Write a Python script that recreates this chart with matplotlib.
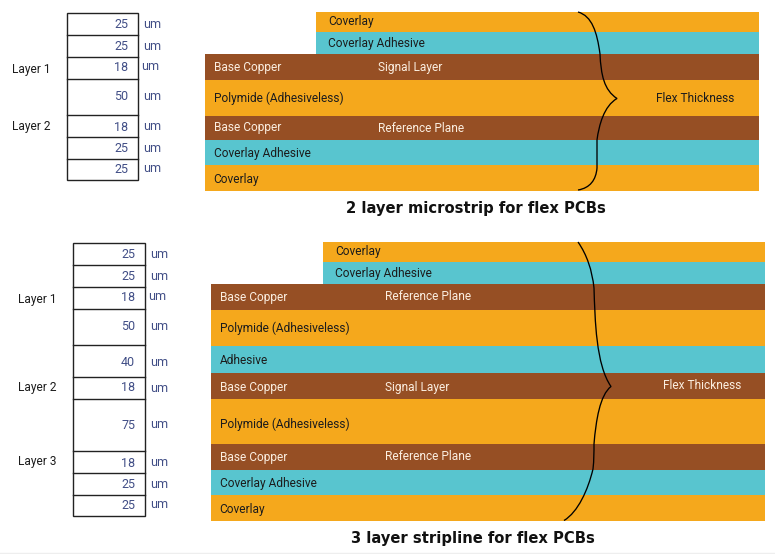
import matplotlib
matplotlib.use("Agg")
import matplotlib.pyplot as plt
from matplotlib.patches import Rectangle, PathPatch
from matplotlib.path import Path

ORANGE = '#f5a81c'
TEAL = '#58c5cf'
BROWN = '#964f24'
NUM = '#414e86'
CREAM = '#fbeee0'
DARK = '#1c1c1c'

# ---------- data ----------
micro_values = [25, 25, 18, 50, 18, 25, 25]
micro_layers = ['Layer 1', 'Layer 2']
micro_bands = ['Coverlay', 'Coverlay Adhesive', 'Base Copper', 'Polymide (Adhesiveless)',
               'Base Copper', 'Coverlay Adhesive', 'Coverlay']
micro_notes = ['', '', 'Signal Layer', '', 'Reference Plane', '', '']
micro_title = '2 layer microstrip for flex PCBs'

strip_values = [25, 25, 18, 50, 40, 18, 75, 18, 25, 25]
strip_layers = ['Layer 1', 'Layer 2', 'Layer 3']
strip_bands = ['Coverlay', 'Coverlay Adhesive', 'Base Copper', 'Polymide (Adhesiveless)', 'Adhesive',
               'Base Copper', 'Polymide (Adhesiveless)', 'Base Copper', 'Coverlay Adhesive', 'Coverlay']
strip_notes = ['', '', 'Reference Plane', '', '', 'Signal Layer', '', 'Reference Plane', '', '']
strip_title = '3 layer stripline for flex PCBs'

# ---------- layout (pixels) ----------
micro_edges = [12, 32, 54, 79.5, 115.5, 140, 165, 190.5]
micro_cells = [13.3, 35.3, 57, 79, 115.3, 137, 159, 180.3]
micro_num_y = [25, 46.5, 67.5, 96.5, 127.5, 148, 169.5]
micro_um = [(143.5, 25), (143.5, 47), (141.5, 67), (143.5, 96), (143.5, 127), (143.5, 148), (143.5, 169)]
micro_layer_y = [69.5, 126.5]
micro_text_y = [22, 43, 67, 98, 128, 153.5, 179.5]

strip_edges = [242, 262, 284, 309.5, 345.5, 373, 398.5, 444, 469.5, 495, 520.5]
strip_cells = [243.3, 265.3, 287, 309, 345.3, 377.3, 399, 451.3, 473, 495, 516.3]
strip_num_y = [255, 276.5, 297.5, 326.5, 362.5, 387.5, 425.5, 463.5, 484, 505.5]
strip_um = [(150, 255), (150, 277), (148, 297), (150, 326), (150, 362), (150, 388),
            (150, 424), (150, 463), (150, 484), (150, 505)]
strip_layer_y = [299.5, 387.5, 461.5]
strip_text_y = [252, 273, 297, 328, 361, 387, 424, 457, 483, 509]


def band_color(name):
    if name == 'Base Copper':
        return BROWN
    if 'Adhesive' in name and 'Adhesiveless' not in name:
        return TEAL
    return ORANGE


# draws one table of thicknesses with its um labels
def draw_table(ax, x0, x1, cells, values, num_y, um, layers, layer_y, layer_x):
    ax.add_patch(Rectangle((x0, cells[0]), x1 - x0, cells[-1] - cells[0], fc='white', ec='#222222', lw=1))
    for y in cells[1:-1]:
        ax.plot([x0, x1], [y, y], color='#222222', lw=1)
    for v, y in zip(values, num_y):
        ax.text(x1 - 9.5, y, str(v), ha='right', va='center', color=NUM, fontsize=9)
    for (x, y) in um:
        ax.text(x, y, 'um', ha='left', va='center', color=NUM, fontsize=9)
    for name, y in zip(layers, layer_y):
        ax.text(layer_x, y, name, ha='left', va='center', color=DARK, fontsize=8.6)


# draws the coloured stack
def draw_stack(ax, x0, x1, top_x, edges, bands, notes, text_y, note_x):
    for i, name in enumerate(bands):
        left = top_x if i < 2 else x0
        ax.add_patch(Rectangle((left, edges[i]), x1 - left, edges[i + 1] - edges[i],
                               fc=band_color(name), ec='none'))
        color = CREAM if name == 'Base Copper' else DARK
        tx = top_x + 12 if i < 2 else x0 + 8.5
        ax.text(tx, text_y[i], name, ha='left', va='center', color=color, fontsize=8.6)
        if notes[i]:
            ax.text(note_x, text_y[i], notes[i], ha='left', va='center', color=CREAM, fontsize=8.6)


def draw_brace(ax, verts):
    codes = [Path.MOVETO] + [Path.CURVE4] * (len(verts) - 1)
    ax.add_patch(PathPatch(Path(verts, codes), fc='none', ec='black', lw=0.95))


fig = plt.figure(figsize=(7.75, 5.54), dpi=100)
plt.rcParams['font.family'] = ['Roboto', 'DejaVu Sans']
ax = fig.add_axes([0, 0, 1, 1])
ax.set_xlim(0, 775)
ax.set_ylim(554, 0)
ax.axis('off')

draw_table(ax, 67, 138, micro_cells, micro_values, micro_num_y, micro_um, micro_layers, micro_layer_y, 12)
draw_stack(ax, 205, 759, 316, micro_edges, micro_bands, micro_notes, micro_text_y, 378)
draw_brace(ax, [(578, 12), (592, 16), (597, 32), (600, 54),
                (601, 75), (604, 90), (617, 98.5),
                (604, 106), (599, 125), (597, 140),
                (597, 150), (597, 158), (597, 168),
                (596, 180), (590, 188), (578, 190)])
ax.text(656.5, 98.5, 'Flex Thickness', ha='left', va='center', color=DARK, fontsize=8.6)
ax.text(475.5, 208, micro_title, ha='center', va='center', color='#111111', fontsize=10.6,
        fontweight='bold', family=['DejaVu Sans'])

draw_table(ax, 73, 144.7, strip_cells, strip_values, strip_num_y, strip_um, strip_layers, strip_layer_y, 18)
draw_stack(ax, 211, 765, 323, strip_edges, strip_bands, strip_notes, strip_text_y, 385)
draw_brace(ax, [(578, 242), (587, 255), (592, 270), (594, 288),
                (595, 320), (596, 365), (611, 386.5),
                (600, 395), (596, 420), (594, 444),
                (594, 452), (594, 460), (593, 469),
                (588, 490), (578, 512), (564, 520.5)])
ax.text(663, 385.5, 'Flex Thickness', ha='left', va='center', color=CREAM, fontsize=8.6)
ax.text(472.5, 538, strip_title, ha='center', va='center', color='#111111', fontsize=10.6,
        fontweight='bold', family=['DejaVu Sans'])

ax.plot([0, 775], [552.5, 552.5], color='#eeeeee', lw=1)

fig.savefig('out.png', dpi=100)
